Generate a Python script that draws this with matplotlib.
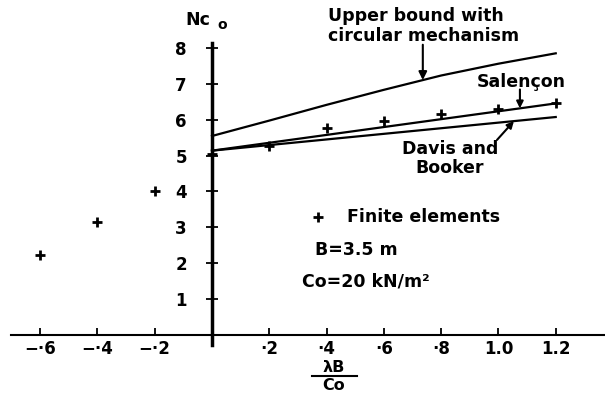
import numpy as np
import matplotlib
matplotlib.use("Agg")
import matplotlib.pyplot as plt

plt.rcParams['font.family'] = ['DejaVu Sans']
plt.rcParams['font.weight'] = 'bold'

# finite element results
fe_x = [-0.6, -0.4, -0.2, 0.0, 0.2, 0.4, 0.6, 0.8, 1.0, 1.2]
fe_nc = [2.22, 3.14, 4.00, 5.04, 5.28, 5.76, 5.98, 6.16, 6.30, 6.48]

# upper bound, circular mechanism
ub_x = [0.0, 0.2, 0.4, 0.6, 0.8, 1.0, 1.2]
ub_nc = [5.55, 5.98, 6.42, 6.84, 7.24, 7.57, 7.86]

# Salencon
sal_x = [0.0, 1.2]
sal_nc = [5.14, 6.46]

# Davis and Booker
db_x = [0.0, 1.2]
db_nc = [5.14, 6.08]

xticks = [-0.6, -0.4, -0.2, 0.2, 0.4, 0.6, 0.8, 1.0, 1.2]
xticklabels = ['−·6', '−·4', '−·2', '·2', '·4', '·6', '·8', '1.0', '1.2']
yticks = [0, 1, 2, 3, 4, 5, 6, 7, 8]
yticklabels = ['', '1', '2', '3', '4', '5', '6', '7', '8']

fig = plt.figure(figsize=(6.05, 3.94), dpi=100)
ax = fig.add_axes([0, 0, 1, 1])
ax.set_xlim(-0.74, 1.372)
ax.set_ylim(-1.66, 9.35)

ax.plot(ub_x, ub_nc, color='black', lw=1.6)
ax.plot(sal_x, sal_nc, color='black', lw=1.6)
ax.plot(db_x, db_nc, color='black', lw=1.6)
ax.plot(fe_x, fe_nc, ls='none', marker='+', ms=7, mew=2, color='black')

# axes through the origin
for s in ['top', 'right']:
    ax.spines[s].set_visible(False)
ax.spines['left'].set_position(('data', 0))
ax.spines['bottom'].set_position(('data', 0))
ax.spines['left'].set_bounds(-0.3, 8.15)
ax.spines['bottom'].set_bounds(-0.7, 1.372)
ax.spines['left'].set_linewidth(2.5)
ax.spines['bottom'].set_linewidth(1.5)

ax.set_xticks(xticks)
ax.set_xticklabels(xticklabels)
ax.set_yticks(yticks)
ax.set_yticklabels(yticklabels)
ax.tick_params(axis='x', direction='in', length=5, width=1.3, pad=4, labelsize=12)
ax.tick_params(axis='y', direction='inout', length=8, width=1.3, pad=14, labelsize=12)
for lab in ax.get_xticklabels() + ax.get_yticklabels():
    lab.set_fontweight('bold')

tk = dict(fontsize=12.5, fontweight='bold', color='black')
ax.text(-0.05, 8.79, 'Nc', ha='center', va='center', **tk)
ax.text(0.035, 8.66, 'o', ha='center', va='center', fontsize=10, fontweight='bold')

ax.text(0.74, 8.62, 'Upper bound with\ncircular mechanism', ha='center', va='center',
        multialignment='left', linespacing=1.15, **tk)
xa = 0.736
ax.annotate('', xy=(xa, np.interp(xa, ub_x, ub_nc)), xytext=(xa, 8.1),
            arrowprops=dict(arrowstyle='-|>', color='black', lw=1.5, mutation_scale=12,
                            shrinkA=0, shrinkB=0))

ax.text(1.079, 7.06, 'Salençon', ha='center', va='center', **tk)
xs = 1.075
ax.annotate('', xy=(xs, np.interp(xs, sal_x, sal_nc)), xytext=(xs, 6.85),
            arrowprops=dict(arrowstyle='-|>', color='black', lw=1.5, mutation_scale=10,
                            shrinkA=0, shrinkB=0))

ax.text(0.83, 4.92, 'Davis and\nBooker', ha='center', va='center',
        linespacing=1.05, **tk)
xd = 1.054
ax.annotate('', xy=(xd, np.interp(xd, db_x, db_nc)), xytext=(0.995, 5.44),
            arrowprops=dict(arrowstyle='-|>', color='black', lw=1.5, mutation_scale=10,
                            shrinkA=0, shrinkB=0))

ax.plot([0.37], [3.28], ls='none', marker='+', ms=7, mew=2, color='black')
ax.text(0.47, 3.28, 'Finite elements', ha='left', va='center', **tk)
ax.text(0.36, 2.37, 'B=3.5 m', ha='left', va='center', **tk)
ax.text(0.315, 1.47, 'Co=20 kN/m²', ha='left', va='center', **tk)

# x axis label as a fraction
fr = dict(fontsize=11.5, fontweight='bold', color='black')
ax.text(0.426, -0.92, 'λB', ha='center', va='center', **fr)
ax.plot([0.35, 0.505], [-1.16, -1.16], color='black', lw=1.5, clip_on=False)
ax.text(0.426, -1.42, 'Co', ha='center', va='center', **fr)

fig.savefig('out.png', dpi=100)
